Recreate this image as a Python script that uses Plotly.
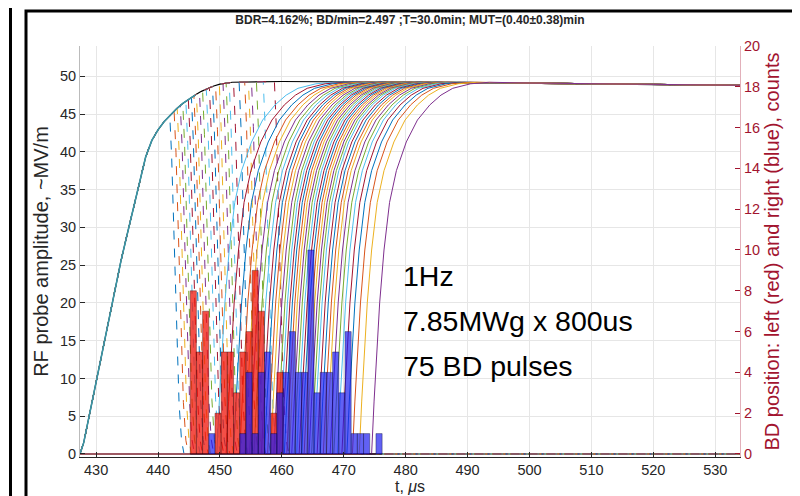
import numpy as np
import plotly.graph_objects as go

# ---------------- data ----------------
title_text = "BDR=4.162%; BD/min=2.497 ;T=30.0min; MUT=(0.40\u00b10.38)min"
x_ticks = [430, 440, 450, 460, 470, 480, 490, 500, 510, 520, 530]
y_ticks = [0, 5, 10, 15, 20, 25, 30, 35, 40, 45, 50]
y2_ticks = [0, 2, 4, 6, 8, 10, 12, 14, 16, 18, 20]

# RF envelope (no breakdown), time in us -> amplitude MV/m
env_t = [427.4, 428.0, 429.0, 430.0, 431.0, 432.0, 433.0, 434.0, 435.0, 436.0,
         437.0, 438.0, 439.0, 440.0, 441.0, 442.0, 443.0, 444.0, 445.0, 446.0,
         447.0, 448.0, 449.0, 450.0, 452.0, 460.0, 480.0, 500.0, 520.0, 534.0]
env_v = [0.0, 1.5, 5.5, 9.5, 13.5, 17.5, 21.5, 25.5, 29.0, 32.5,
         36.0, 39.3, 41.5, 42.9, 44.0, 44.9, 45.7, 46.4, 47.0, 47.5,
         48.0, 48.4, 48.7, 48.95, 49.2, 49.3, 49.2, 49.1, 48.9, 48.8]

# pulses that collapse (dashed traces): breakdown times, us
drop_times = [441.9, 442.6, 443.1, 443.6, 444.0, 444.5, 444.9, 445.4, 445.8, 446.2,
              446.7, 447.2, 447.8, 448.3, 448.8, 449.3, 449.9, 450.5, 451.0, 451.5,
              452.2, 453.1, 454.0, 454.6, 455.1, 455.9, 457.0, 458.8]
# shape of a collapse: time after BD (us) -> fraction of amplitude
drop_dt = [0.0, 0.3, 0.7, 1.1, 1.5, 1.9, 2.3]
drop_frac = [1.0, 0.88, 0.62, 0.35, 0.15, 0.04, 0.0]

# pulses that recover (solid traces): start times of the recovery, us
rise_times = [449.5, 451.0, 452.2, 453.2, 454.0, 454.8, 455.5, 456.1, 456.7, 457.2,
              457.7, 458.2, 458.7, 459.2, 459.6, 460.0, 460.4, 460.8, 461.2, 461.6,
              462.0, 462.4, 462.8, 463.2, 463.6, 464.0, 464.4, 464.8, 465.2, 465.7,
              466.2, 466.7, 467.2, 467.8, 468.4, 469.0, 469.7, 470.5, 471.4, 472.5,
              474.5]
# shape of a recovery: time after start (us) -> amplitude MV/m
rise_dt = [0.0, 0.4, 0.8, 1.3, 2.0, 2.9, 4.0, 5.6, 7.4, 9.4, 11.2, 13.1, 16.0, 19.0]
rise_v = [0.0, 7.0, 13.5, 20.0, 27.0, 33.3, 37.5, 41.3, 44.2, 46.2, 47.5, 48.4, 49.0, 49.2]

# histograms of BD position (1 us bins)
bin_start = 445.2
bin_width = 1.0
red_counts = [8, 5, 7, 0, 2, 5, 5, 3, 5, 6, 9, 7, 0, 2, 4, 0, 0, 0, 0, 0,
              0, 0, 0, 0, 0, 0, 0, 0, 0, 0, 0]
blue_counts = [0, 0, 0, 1, 0, 0, 0, 0, 1, 4, 1, 4, 5, 1, 3, 4, 6, 4, 4, 10,
               3, 4, 4, 5, 3, 6, 1, 1, 1, 0, 1]

note_lines = ["1Hz", "7.85MWg x 800us", "75 BD pulses"]
note_y = [23.6, 17.6, 11.6]
note_x = 479.3

# ---------------- styling ----------------
mat_colors = ["#0072BD", "#D95319", "#EDB120", "#7E2F8E", "#77AC30", "#4DBEEE", "#A2142F"]
FONT = "Liberation Sans, Arial, Helvetica, sans-serif"
W, H = 800, 496
ML, MR, MT, MB = 72, 68, 38, 47
T_END = 534.0
XR = [427.4, T_END]
YR = [-0.4, 54.0]
Y2R = [YR[0] * 20.0 / YR[1], 20.0]

fig = go.Figure()

# reference (no breakdown) trace
fig.add_trace(go.Scatter(x=env_t, y=env_v, mode="lines",
                         line=dict(color="#000000", width=1.2), hoverinfo="skip"))

# collapsing pulses
for i, td in enumerate(drop_times):
    vd = float(np.interp(td, env_t, env_v))
    xs = [t for t in env_t if t < td] + [td + d for d in drop_dt] + [T_END]
    ys = [v for t, v in zip(env_t, env_v) if t < td] + [vd * f for f in drop_frac] + [0.0]
    fig.add_trace(go.Scatter(x=xs, y=ys, mode="lines",
                             line=dict(color=mat_colors[i % 7], width=1, dash="dash"),
                             hoverinfo="skip"))

# recovering pulses
for i, tr in enumerate(rise_times):
    t_top = tr + rise_dt[-1]
    xs = [env_t[0], tr] + [tr + d for d in rise_dt] + [t for t in env_t if t > t_top]
    ys = [0.0, 0.0] + list(rise_v) + [v for t, v in zip(env_t, env_v) if t > t_top]
    fig.add_trace(go.Scatter(x=xs, y=ys, mode="lines",
                             line=dict(color=mat_colors[(i + 5) % 7], width=1),
                             hoverinfo="skip"))

# common rising edge, drawn solid on top
rise_edge_t = [t for t in env_t if t <= 446.0]
rise_edge_v = [v for t, v in zip(env_t, env_v) if t <= 446.0]
fig.add_trace(go.Scatter(x=rise_edge_t, y=rise_edge_v, mode="lines",
                         line=dict(color="#3A97A8", width=1.6), hoverinfo="skip"))

centers = [bin_start + bin_width * (k + 0.5) for k in range(len(red_counts))]
fig.add_trace(go.Bar(x=centers, y=red_counts, width=bin_width, yaxis="y2",
                     marker=dict(color="rgba(240,20,10,0.75)",
                                 line=dict(color="rgba(40,0,0,0.6)", width=0.6)),
                     hoverinfo="skip"))
fig.add_trace(go.Bar(x=centers, y=blue_counts, width=bin_width, yaxis="y2",
                     marker=dict(color="rgba(30,30,240,0.7)",
                                 line=dict(color="rgba(0,0,40,0.6)", width=0.6)),
                     hoverinfo="skip"))

for txt, yy in zip(note_lines, note_y):
    fig.add_annotation(x=note_x, y=yy, text=txt, showarrow=False, xanchor="left",
                       yanchor="middle", font=dict(family=FONT, size=28.5, color="#000000"))

pw = W - ML - MR
ph = H - MT - MB


def px(x):
    return (x - ML) / pw


def py(y):
    return (H - MB - y) / ph


fig.add_shape(type="rect", xref="paper", yref="paper",
              x0=px(18), x1=px(795), y0=py(493), y1=py(3),
              line=dict(color="#000000", width=3), layer="above")
fig.add_shape(type="line", xref="paper", yref="paper",
              x0=px(2.5), x1=px(2.5), y0=py(496), y1=py(0),
              line=dict(color="#000000", width=3))

fig.update_layout(
    width=W, height=H,
    margin=dict(l=ML, r=MR, t=MT, b=MB),
    paper_bgcolor="white", plot_bgcolor="white",
    showlegend=False, barmode="overlay",
    font=dict(family=FONT, color="#262626"),
    title=dict(text="<b>" + title_text + "</b>", x=0.5, xref="paper", xanchor="center",
               y=1 - 12 / H, yanchor="middle", font=dict(family=FONT, size=12, color="#262626")),
    xaxis=dict(range=XR, tickvals=x_ticks, ticks="inside", ticklen=5, tickcolor="#262626",
               showgrid=True, gridcolor="#E6E6E6", zeroline=False,
               showline=True, linecolor="#262626", linewidth=1,
               tickfont=dict(family=FONT, size=14.5, color="#262626"),
               title=dict(text="t, <i>\u03bc</i>s", font=dict(family=FONT, size=16, color="#262626"),
                          standoff=2)),
    yaxis=dict(range=YR, tickvals=y_ticks, ticks="inside", ticklen=5, tickcolor="#262626",
               showgrid=True, gridcolor="#E6E6E6", zeroline=False,
               showline=True, linecolor="#BBBBBB", linewidth=1,
               tickfont=dict(family=FONT, size=14.5, color="#262626"),
               title=dict(text="RF probe amplitude, ~MV/m", font=dict(family=FONT, size=20, color="#262626"),
                          standoff=5)),
    yaxis2=dict(range=Y2R, tickvals=y2_ticks, overlaying="y", side="right",
                ticks="inside", ticklen=5, tickcolor="#A2142F",
                showgrid=False, zeroline=False, showline=True, linecolor="#E2B0BA", linewidth=1,
                tickfont=dict(family=FONT, size=14.5, color="#A2142F"),
                title=dict(text="BD position: left (red) and right (blue), counts",
                           font=dict(family=FONT, size=20, color="#A2142F"), standoff=5)),
)

fig.write_html("out.html")
